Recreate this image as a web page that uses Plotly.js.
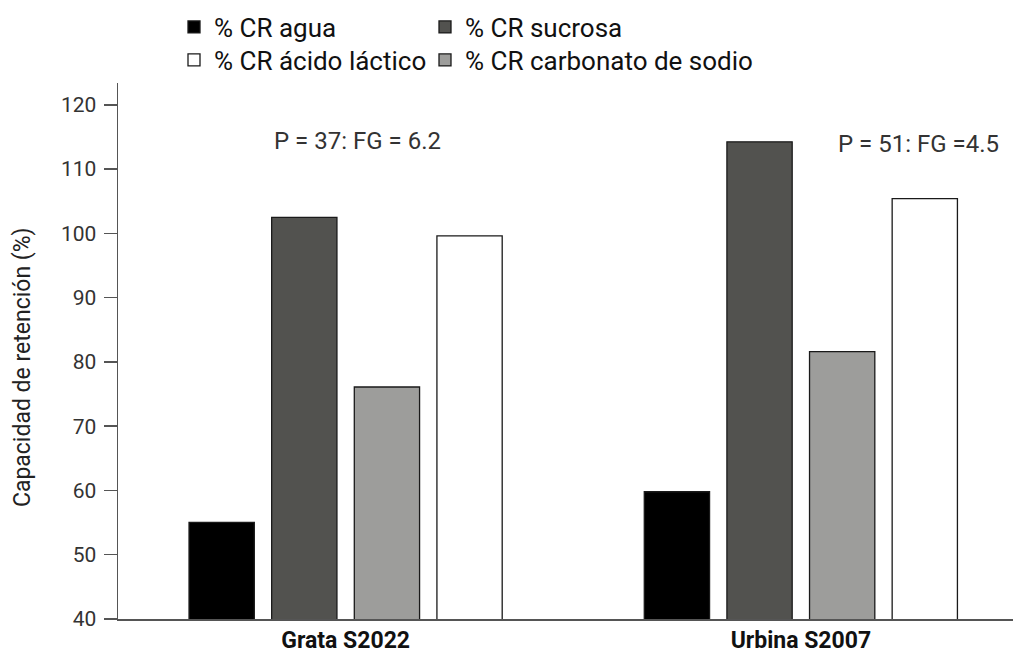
<!DOCTYPE html>
<html>
<head>
<meta charset="utf-8">
<script src="https://cdn.plot.ly/plotly-3.0.1.min.js"></script>
<style>html,body{margin:0;padding:0;background:#fff;}#chart{width:1013px;height:656px;}</style>
</head>
<body>
<div id="chart"></div>
<script>
const categories = ["Grata S2022", "Urbina S2007"];
const agua = [55.05, 59.8];
const sucrosa = [102.5, 114.25];
const carbonato = [76.1, 81.6];
const acido = [99.6, 105.4];
const seriesNames = ["% CR agua", "% CR sucrosa", "% CR carbonato de sodio", "% CR ácido láctico"];
const annotationTexts = ["P = 37: FG = 6.2", "P = 51: FG =4.5"];
const yTitle = "Capacidad de retención (%)";
const yTicks = [40, 50, 60, 70, 80, 90, 100, 110, 120];

const edge = {color: "#1a1a1a", width: 1.3};
const traces = [
  {type: "bar", name: seriesNames[0], x: categories, y: agua, marker: {color: "#000000", line: edge}, legend: "legend"},
  {type: "bar", name: seriesNames[1], x: categories, y: sucrosa, marker: {color: "#52524f", line: edge}, legend: "legend2"},
  {type: "bar", name: seriesNames[2], x: categories, y: carbonato, marker: {color: "#9d9d9b", line: edge}, legend: "legend4"},
  {type: "bar", name: seriesNames[3], x: categories, y: acido, marker: {color: "#ffffff", line: edge}, legend: "legend3"}
];

const legendFont = {family: "Roboto, sans-serif", size: 26, color: "#111"};
function leg(px, py) {
  return {
    xref: "container", yref: "container",
    x: px / 1013, y: 1 - py / 656, xanchor: "left", yanchor: "middle",
    orientation: "v", font: legendFont, bgcolor: "rgba(0,0,0,0)"
  };
}
const layout = {
  width: 1013, height: 656,
  margin: {l: 118, r: 0, t: 83, b: 37, autoexpand: false},
  paper_bgcolor: "#fff", plot_bgcolor: "#fff",
  font: {family: "Roboto, sans-serif", color: "#333"},
  barmode: "group",
  bargap: 0.274,
  bargroupgap: 0.21,
  xaxis: {
    type: "category",
    range: [-0.5, 1.466],
    showline: true, linecolor: "#555", linewidth: 1.5,
    ticks: "", showgrid: false, zeroline: false,
    tickfont: {family: "Roboto, sans-serif", size: 23, color: "#111", weight: "bold"}
  },
  yaxis: {
    range: [40, 123.4],
    tickvals: yTicks,
    showline: true, linecolor: "#555", linewidth: 1.5,
    ticks: "outside", ticklen: 13, tickcolor: "#555", tickwidth: 1.5,
    ticklabelstandoff: 3,
    showgrid: false, zeroline: false,
    tickfont: {family: "Roboto, sans-serif", size: 21, color: "#333"}
  },
  legend: leg(174, 27),
  legend2: leg(425, 27),
  legend3: leg(174, 60),
  legend4: leg(425, 60),
  showlegend: true,
  annotations: [
    {text: annotationTexts[0], xref: "paper", yref: "y", x: (272 - 118) / 895, y: 114.4, xanchor: "left", yanchor: "middle", showarrow: false, font: {family: "Roboto, sans-serif", size: 24, color: "#333"}},
    {text: annotationTexts[1], xref: "paper", yref: "y", x: (836 - 118) / 895, y: 113.9, xanchor: "left", yanchor: "middle", showarrow: false, font: {family: "Roboto, sans-serif", size: 24, color: "#333"}},
    {text: yTitle, xref: "paper", yref: "paper", x: (22 - 118) / 895, y: 0.47, xanchor: "center", yanchor: "middle", textangle: -90, showarrow: false, font: {family: "Roboto, sans-serif", size: 23, color: "#222"}}
  ]
};

Plotly.newPlot("chart", traces, layout, {displayModeBar: false, staticPlot: true});
</script>
</body>
</html>
